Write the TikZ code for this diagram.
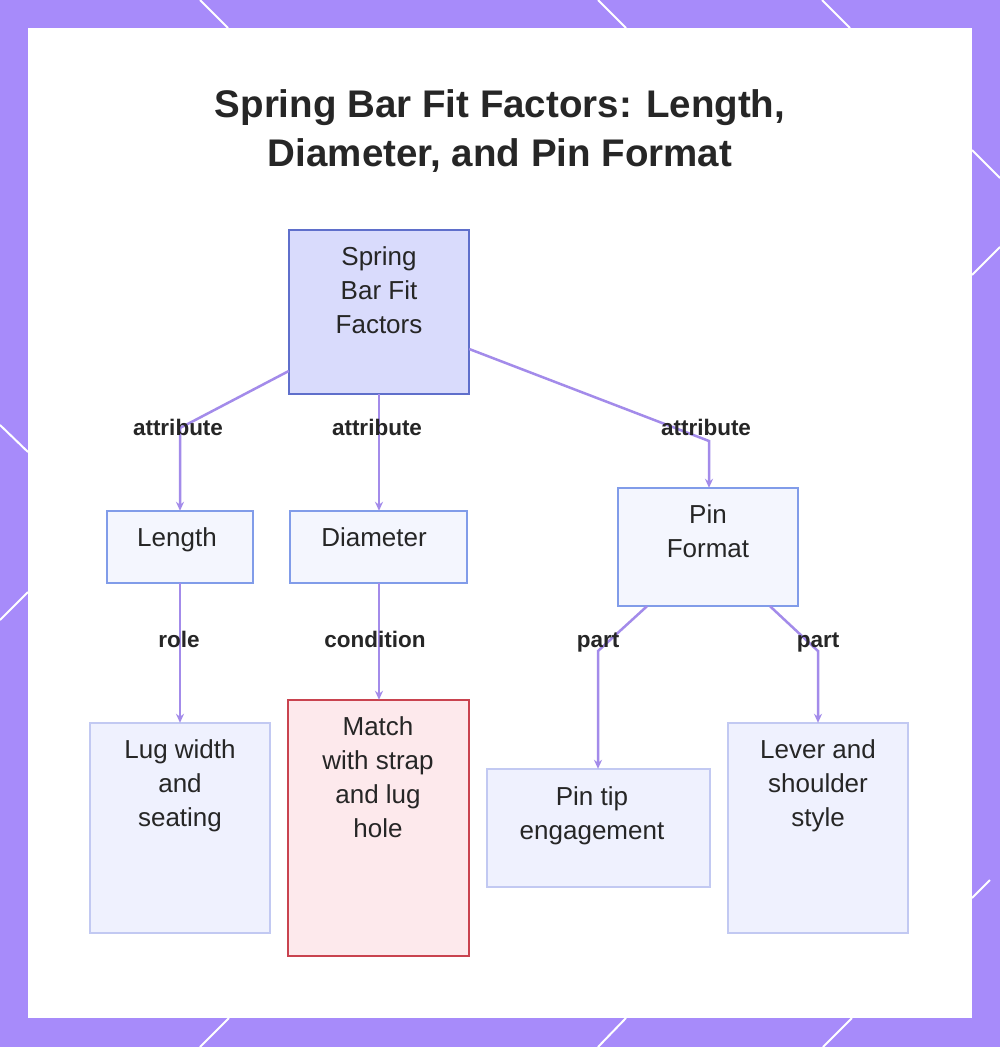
\documentclass[tikz,border=0pt]{standalone}
\usepackage{fontspec}
\setmainfont{Liberation Sans}
\usetikzlibrary{arrows.meta}
\definecolor{frame}{HTML}{A78BFA}
\definecolor{edge}{HTML}{A38BEA}
\definecolor{rootfill}{HTML}{D9DBFC}
\definecolor{rootdraw}{HTML}{5F6FCB}
\definecolor{midfill}{HTML}{F4F6FE}
\definecolor{middraw}{HTML}{819CE9}
\definecolor{leaffill}{HTML}{EFF1FE}
\definecolor{leafdraw}{HTML}{C2C9F2}
\definecolor{redfill}{HTML}{FDE9EC}
\definecolor{reddraw}{HTML}{C9434F}
\definecolor{txt}{HTML}{262626}
\tikzset{
  box/.style={draw, line width=2pt},
  hold/.style={inner sep=0pt, minimum width=#1},
  boxtext/.style={align=center, font=\fontsize{26}{34}\selectfont, text=txt, anchor=north},
  conn/.style={draw=edge, line width=2.5pt, -{Stealth[length=9pt,width=8pt]}},
  lbl/.style={font=\fontsize{22.5}{24}\selectfont\bfseries, text=txt, text height=16pt, text depth=5pt, inner sep=0pt},
}
\begin{document}
\begin{tikzpicture}[x=1pt,y=-1pt]
\useasboundingbox (0,0) rectangle (1000,1047);
% frame
\fill[frame] (0,0) rectangle (1000,1047);
\fill[white] (28,28) rectangle (972,1018);
\begin{scope}[draw=white, line width=2pt]
\draw (200,0) -- (228,28);
\draw (598,0) -- (626,28);
\draw (822,0) -- (850,28);
\draw (200,1047) -- (229,1018);
\draw (598,1047) -- (626,1018);
\draw (823,1047) -- (852,1018);
\draw (972,150) -- (1000,178);
\draw (972,275) -- (1000,247);
\draw (972,898) -- (990,880);
\draw (0,425) -- (28,452);
\draw (0,620) -- (28,592);
\end{scope}
% title
\node[font=\fontsize{38.5}{49}\selectfont\bfseries, text=txt, align=center] (title) at (500,131) {Spring Bar Fit Factors: Length,\\Diameter, and Pin Format};
% boxes
\path[box, draw=rootdraw, fill=rootfill] (289,230) rectangle (469,394);
\path[box, draw=middraw, fill=midfill] (107,511) rectangle (253,583);
\path[box, draw=middraw, fill=midfill] (290,511) rectangle (467,583);
\path[box, draw=middraw, fill=midfill] (618,488) rectangle (798,606);
\path[box, draw=leafdraw, fill=leaffill] (90,723) rectangle (270,933);
\path[box, draw=reddraw, fill=redfill] (288,700) rectangle (469,956);
\path[box, draw=leafdraw, fill=leaffill] (487,769) rectangle (710,887);
\path[box, draw=leafdraw, fill=leaffill] (728,723) rectangle (908,933);

\node (root) [inner sep=0pt, minimum width=180pt, minimum height=164pt] at (379,312) {};
\node (len) [inner sep=0pt, minimum width=146pt, minimum height=72pt] at (180,547) {};
\node (dia) [inner sep=0pt, minimum width=177pt, minimum height=72pt] at (378.5,547) {};
\node (pin) [inner sep=0pt, minimum width=180pt, minimum height=118pt] at (708,547) {};
\node (lug) [inner sep=0pt, minimum width=180pt, minimum height=210pt] at (180,828) {};
\node (match) [inner sep=0pt, minimum width=181pt, minimum height=256pt] at (378.5,828) {};
\node (tip) [inner sep=0pt, minimum width=223pt, minimum height=118pt] at (598.5,828) {};
\node (lever) [inner sep=0pt, minimum width=180pt, minimum height=210pt] at (818,828) {};

\node[boxtext] (troot) at (379,243) {Spring\\Bar Fit\\Factors};
\node[boxtext] (tlen) at (177,524) {Length};
\node[boxtext] (tdia) at (374,524) {Diameter};
\node[boxtext] (tpin) at (708,501) {Pin\\Format};
\node[boxtext] (tlug) at (180,736) {Lug width\\and\\seating};
\node[boxtext] (tmatch) at (378,713) {Match\\with strap\\and lug\\hole};
\node[boxtext] (ttip) at (592,783) {Pin tip\\engagement};
\node[boxtext] (tlever) at (818,736) {Lever and\\shoulder\\style};

% connectors
\draw[conn] (root.west |- 0,371) -- (180,428) -- (len.north -| 180,0);
\draw[conn] (root.south) -- (dia.north -| root.south);
\draw[conn] (root.east |- 0,349) -- (709,441) -- (pin.north -| 709,0);
\draw[conn] (len.south) -- (lug.north);
\draw[conn] (dia.south -| 379,0) -- (match.north -| 379,0);
\draw[conn] (pin.south -| 647,0) -- (598,651) -- (tip.north -| 598,0);
\draw[conn] (pin.south -| 770,0) -- (818,651) -- (lever.north);
% labels
\node[lbl] (l1) at (178,430) {attribute};
\node[lbl] (l2) at (377,430) {attribute};
\node[lbl] (l3) at (706,430) {attribute};
\node[lbl] (l4) at (179,642) {role};
\node[lbl] (l5) at (375,642) {condition};
\node[lbl] (l6) at (598,642) {part};
\node[lbl] (l7) at (818,642) {part};
\end{tikzpicture}
\end{document}
